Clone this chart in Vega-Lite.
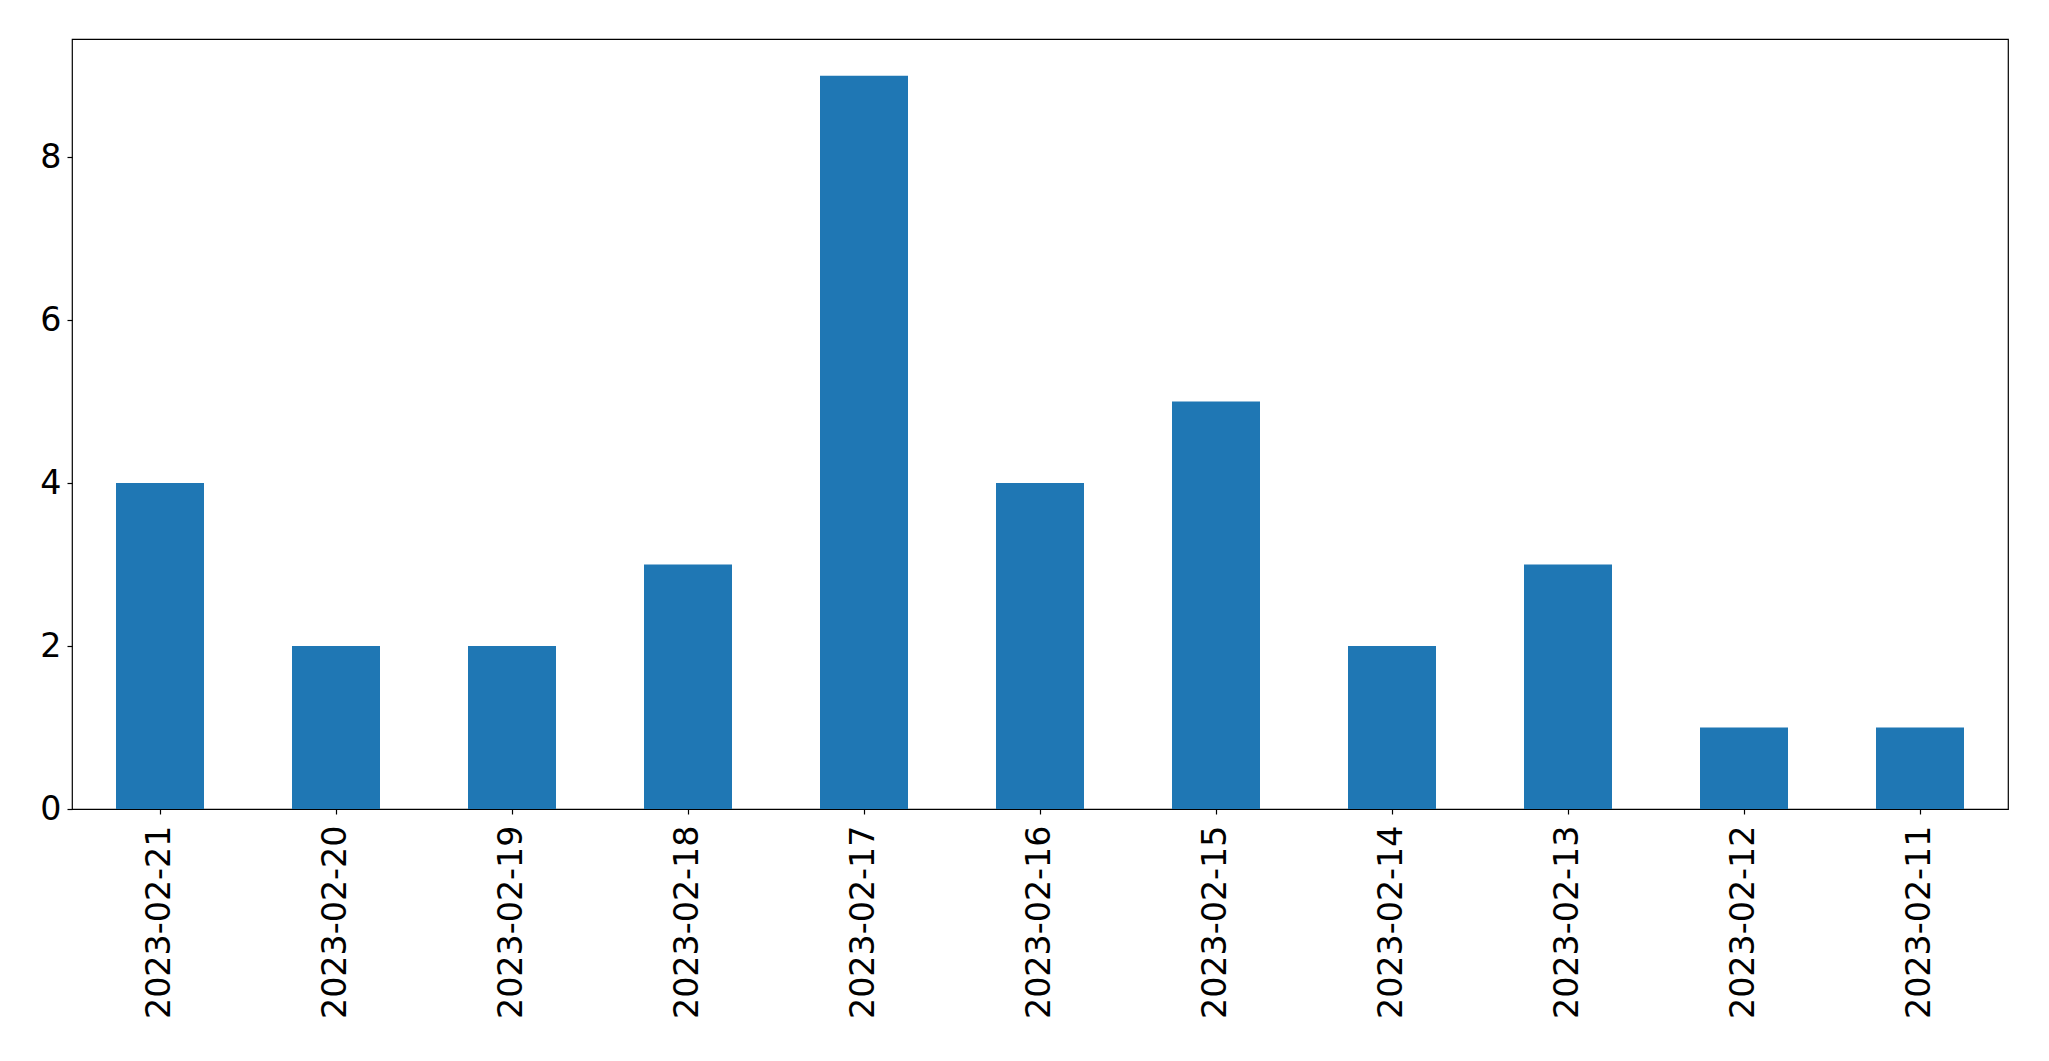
{
  "$schema": "https://vega.github.io/schema/vega-lite/v6.json",
  "autosize": {"type": "none"},
  "width": 1936,
  "height": 770,
  "padding": {"left": 72, "top": 39, "right": 41, "bottom": 252},
  "background": "white",
  "config": {
    "view": {"stroke": "black", "strokeWidth": 1.2},
    "axis": {
      "domain": false,
      "grid": false,
      "tickColor": "black",
      "tickSize": 5,
      "tickWidth": 1.2,
      "labelColor": "black",
      "labelFont": "DejaVu Sans",
      "labelFontSize": 33.3,
      "labelLimit": 0,
      "title": null
    }
  },
  "data": {
    "values": [
      {"date": "2023-02-21", "count": 4},
      {"date": "2023-02-20", "count": 2},
      {"date": "2023-02-19", "count": 2},
      {"date": "2023-02-18", "count": 3},
      {"date": "2023-02-17", "count": 9},
      {"date": "2023-02-16", "count": 4},
      {"date": "2023-02-15", "count": 5},
      {"date": "2023-02-14", "count": 2},
      {"date": "2023-02-13", "count": 3},
      {"date": "2023-02-12", "count": 1},
      {"date": "2023-02-11", "count": 1}
    ]
  },
  "mark": {"type": "bar", "color": "#1f77b4"},
  "encoding": {
    "x": {
      "field": "date",
      "type": "nominal",
      "sort": null,
      "scale": {"paddingInner": 0.5, "paddingOuter": 0.25},
      "axis": {"labelAngle": 270, "labelAlign": "right", "labelBaseline": "middle", "labelPadding": 11}
    },
    "y": {
      "field": "count",
      "type": "quantitative",
      "scale": {"domain": [0, 9.45], "nice": false},
      "axis": {"values": [0, 2, 4, 6, 8], "labelPadding": 6}
    }
  }
}
